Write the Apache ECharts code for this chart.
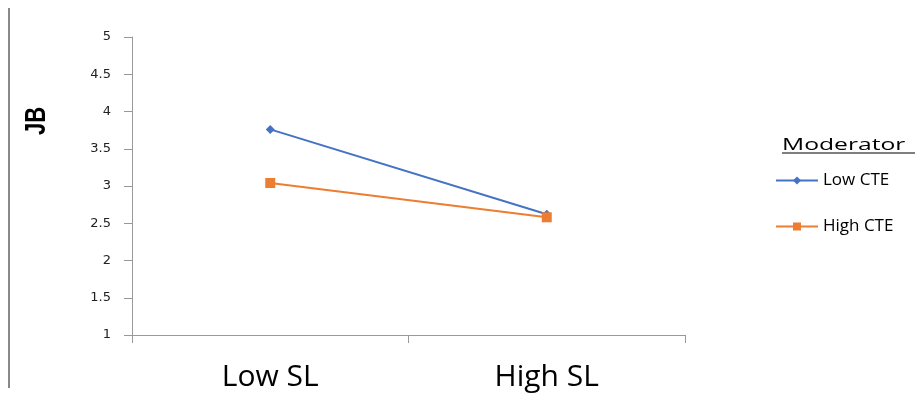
<!DOCTYPE html>
<html><head><meta charset="utf-8">
<script src="https://cdn.jsdelivr.net/npm/echarts@6/dist/echarts.min.js"></script>
<style>html,body{margin:0;padding:0;background:#fff}#c{width:918px;height:395px}</style>
</head><body><div id="c"></div>
<script>
const categories = ['Low SL', 'High SL'];
const lowCTE = [3.76, 2.62];
const highCTE = [3.04, 2.58];
const yTicks = [1, 1.5, 2, 2.5, 3, 3.5, 4, 4.5, 5];

const chart = echarts.init(document.getElementById('c'));
chart.setOption({
  animation: false,
  backgroundColor: '#fff',
  grid: { left: 132, right: 233, top: 37, bottom: 60, containLabel: false },
  xAxis: {
    type: 'category', data: categories, boundaryGap: true,
    axisLine: { lineStyle: { color: '#999', width: 1 } },
    axisTick: { show: true, length: 8, interval: 0, lineStyle: { color: '#999' } },
    axisLabel: { fontFamily: 'Open Sans', fontSize: 30, color: '#000', margin: 27 }
  },
  yAxis: {
    type: 'value', min: yTicks[0], max: yTicks[yTicks.length-1], interval: 0.5,
    axisLine: { show: true, lineStyle: { color: '#999', width: 1 } },
    axisTick: { show: true, length: 8, lineStyle: { color: '#999' } },
    splitLine: { show: false },
    axisLabel: { fontFamily: 'DejaVu Sans', fontSize: 13, color: '#222', margin: 21 }
  },
  legend: {
    orient: 'vertical', left: 770, top: 167, itemGap: 29, itemWidth: 42, itemHeight: 10,
    textStyle: { fontFamily: 'Open Sans', fontSize: 17, color: '#000' },
    data: ['Low CTE', 'High CTE']
  },
  graphic: [
    { type: 'line', shape: { x1: 9, y1: 8, x2: 9, y2: 388 }, style: { stroke: '#888', lineWidth: 2 } },
    { type: 'text', x: 37, y: 121, rotation: Math.PI / 2, scaleY: 1.35,
      style: { text: 'JB', fontFamily: 'Liberation Sans', fontSize: 22, fontWeight: 'bold', fill: '#000', align: 'center', verticalAlign: 'middle' } },
    { type: 'text', x: 782, y: 145, scaleX: 1.45,
      style: { text: 'Moderator', fontFamily: 'Open Sans', fontSize: 17, fill: '#000', align: 'left', verticalAlign: 'middle' } },
    { type: 'line', shape: { x1: 782, y1: 153, x2: 915, y2: 153 }, style: { stroke: '#000', lineWidth: 1 } }
  ],
  series: [
    { name: 'Low CTE', type: 'line', data: lowCTE, symbol: 'diamond', symbolSize: 9,
      lineStyle: { color: '#4472C4', width: 2 }, itemStyle: { color: '#4472C4' } },
    { name: 'High CTE', type: 'line', data: highCTE, symbol: 'rect', symbolSize: 10,
      lineStyle: { color: '#ED7D31', width: 2 }, itemStyle: { color: '#ED7D31' } }
  ]
});
</script></body></html>
